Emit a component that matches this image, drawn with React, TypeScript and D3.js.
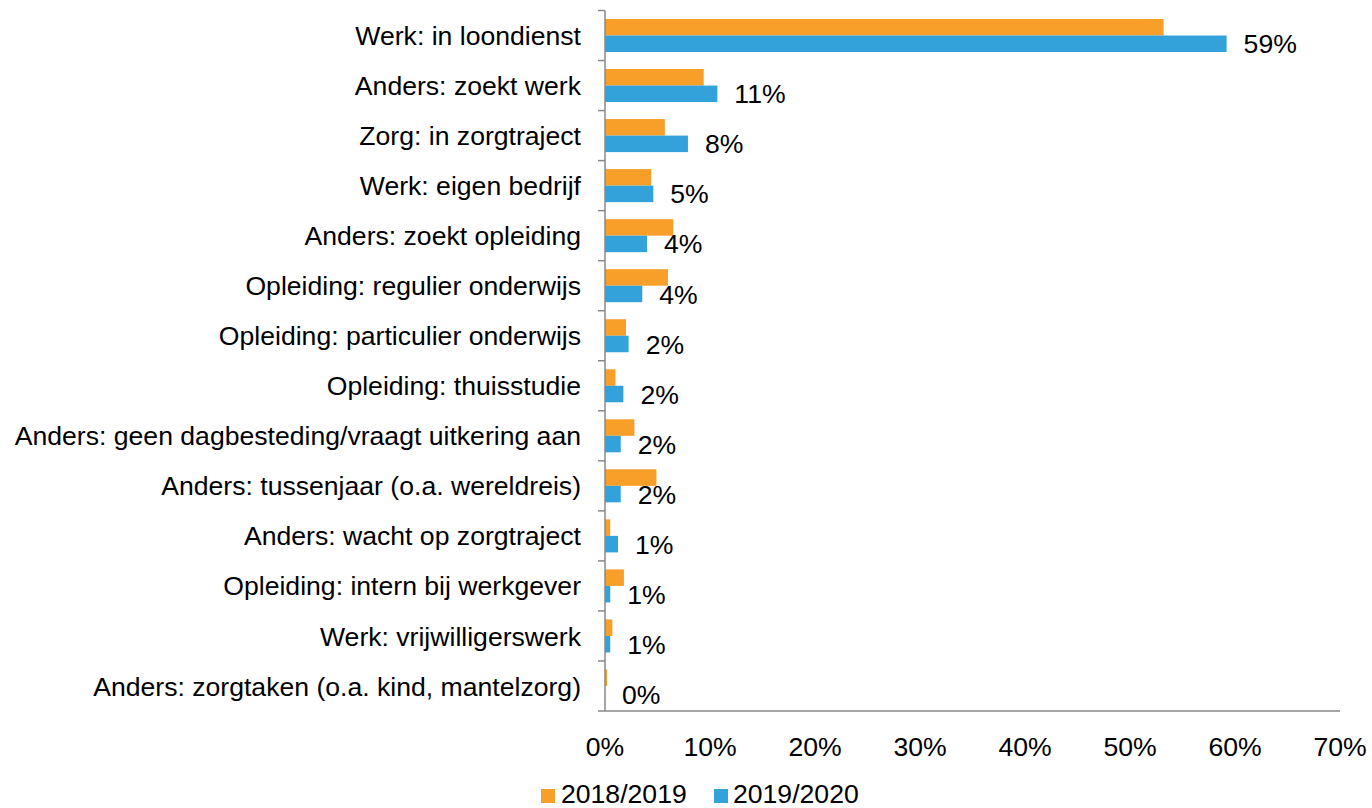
import React from "react";
import * as d3 from "d3";

const categories = [
  "Werk: in loondienst",
  "Anders: zoekt werk",
  "Zorg: in zorgtraject",
  "Werk: eigen bedrijf",
  "Anders: zoekt opleiding",
  "Opleiding: regulier onderwijs",
  "Opleiding: particulier onderwijs",
  "Opleiding: thuisstudie",
  "Anders: geen dagbesteding/vraagt uitkering aan",
  "Anders: tussenjaar (o.a. wereldreis)",
  "Anders: wacht op zorgtraject",
  "Opleiding: intern bij werkgever",
  "Werk: vrijwilligerswerk",
  "Anders: zorgtaken (o.a. kind, mantelzorg)",
];

const series = ["2018/2019", "2019/2020"];
const values2018 = [53.2, 9.4, 5.7, 4.4, 6.5, 6.0, 2.0, 1.0, 2.8, 4.9, 0.5, 1.8, 0.7, 0.2];
const values2019 = [59.2, 10.7, 7.9, 4.6, 4.0, 3.55, 2.25, 1.75, 1.5, 1.5, 1.24, 0.5, 0.5, 0.0];
const xTicks = [0, 10, 20, 30, 40, 50, 60, 70];

const colors = ["#F79F29", "#33A2DA"];
const FONT = "'Liberation Sans', Arial, sans-serif";
const FS = 26.6;

export default function App() {
  const width = 1372;
  const height = 808;
  const x0 = 605;
  const x1 = 1340;
  const yTop = 10.5;
  const yBottom = 711;

  const x = d3.scaleLinear().domain([0, 70]).range([x0, x1]);
  const y = d3.scaleBand<string>().domain(categories).range([yTop, yBottom]).padding(0);
  const ys = d3
    .scaleBand<string>()
    .domain(series)
    .range([0, y.step()])
    .paddingInner(0)
    .paddingOuter(0.515);

  const data = [values2018, values2019];
  const axisColor = "#898989";

  return (
    <svg
      width={width}
      height={height}
      style={{ position: "absolute", left: 0, top: 0, display: "block", background: "#fff" }}
      fontFamily={FONT}
    >
      {categories.map((c, i) => (
        <g key={c}>
          {series.map((s, j) => (
            <rect
              key={s}
              x={x(0)}
              y={(y(c) as number) + (ys(s) as number)}
              width={Math.max(0, x(data[j][i]) - x(0))}
              height={ys.bandwidth()}
              fill={colors[j]}
            />
          ))}
          <text
            x={x(values2019[i]) + 17}
            y={(y(c) as number) + (ys(series[1]) as number) + ys.bandwidth() / 2}
            dy="0.36em"
            fontSize={FS}
            fill="#000"
          >
            {Math.round(values2019[i])}%
          </text>
          <text
            x={581}
            y={(y(c) as number) + y.bandwidth() / 2}
            dy="0.36em"
            fontSize={FS}
            textAnchor="end"
            fill="#000"
          >
            {c}
          </text>
        </g>
      ))}

      <line x1={x0} x2={x0} y1={yTop} y2={yBottom} stroke={axisColor} strokeWidth={1.5} />
      {d3.range(categories.length + 1).map((k) => {
        const yy = yTop + k * y.step();
        return <line key={k} x1={x0 - 7} x2={x0} y1={yy} y2={yy} stroke={axisColor} strokeWidth={1.5} />;
      })}

      <line x1={x0} x2={x1} y1={yBottom} y2={yBottom} stroke={axisColor} strokeWidth={1.5} />
      {xTicks.map((t) => (
        <text key={t} x={x(t)} y={756} textAnchor="middle" fontSize={FS} fill="#000">
          {t}%
        </text>
      ))}

      <rect x={541} y={789} width={14} height={14} fill={colors[0]} />
      <text x={561} y={803} fontSize={FS} fill="#000">
        {series[0]}
      </text>
      <rect x={714} y={789} width={14} height={14} fill={colors[1]} />
      <text x={733} y={803} fontSize={FS} fill="#000">
        {series[1]}
      </text>
    </svg>
  );
}
